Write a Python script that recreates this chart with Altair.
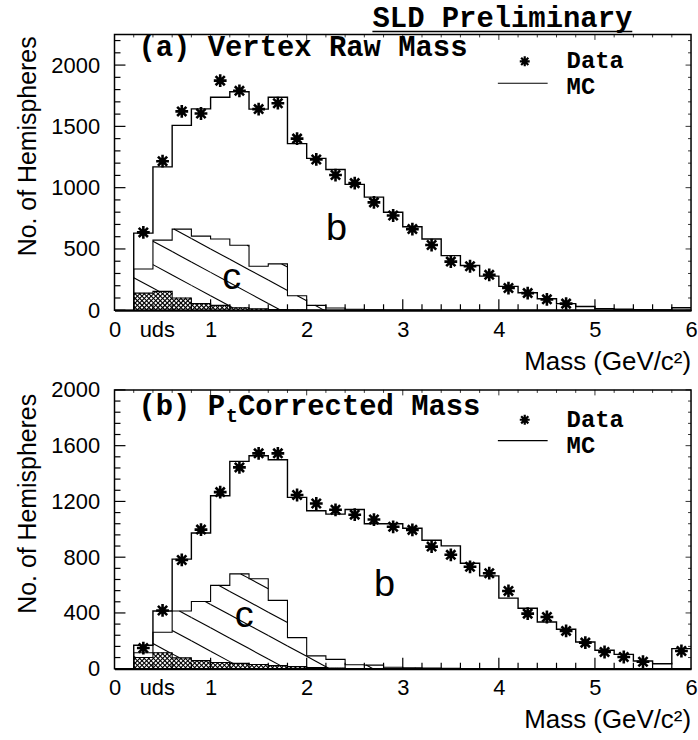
import altair as alt
import pandas as pd

# ---------------- data ----------------
# 29 bins of width 0.2 GeV/c^2, lower edges 0.2 ... 5.8
bin_lo = [round(0.2 + 0.2 * i, 1) for i in range(29)]
bin_mid = [round(0.3 + 0.2 * i, 1) for i in range(29)]

# panel (a) Vertex Raw Mass
a_data = [635, 1216, 1622, 1605, 1873, 1790, 1641, 1689, 1400, 1230, 1103, 1037,
          880, 773, 662, 532, 397, 359, 289, 181, 140, 89, 54]
a_mc = [629, 1170, 1508, 1643, 1737, 1782, 1641, 1738, 1359, 1239, 1148, 1027,
        923, 800, 681, 581, 446, 365, 278, 195, 143, 94, 54, 30, 13, 8, 5, 3, 20]
a_c = [337, 572, 662, 605, 581, 530, 359, 378, 118, 40, 18, 8, 4, 2, 1,
       0, 0, 0, 0, 0, 0, 0, 0, 0, 0, 0, 0, 0, 0]
a_uds = [140, 154, 100, 54, 40, 21, 12, 6, 3, 1,
         0, 0, 0, 0, 0, 0, 0, 0, 0, 0, 0, 0, 0, 0, 0, 0, 0, 0, 0]

# panel (b) Pt Corrected Mass
b_data = [148, 418, 780, 998, 1267, 1444, 1545, 1545, 1246, 1185, 1140, 1105, 1070,
          1018, 996, 876, 817, 731, 685, 558, 395, 371, 271, 187, 120, 84, 50, None, 127]
b_mc = [168, 414, 786, 973, 1241, 1487, 1528, 1499, 1229, 1133, 1109, 1142, 1040,
        1040, 1008, 922, 881, 757, 666, 506, 434, 335, 283, 192, 132, 103, 55, 36, 144]
b_c = [115, 262, 414, 482, 598, 680, 645, 490, 223, 92, 67, 28, 26, 10, 6, 4, 3, 2, 1,
       0, 0, 0, 0, 0, 0, 0, 0, 0, 0]
b_uds = [80, 115, 78, 58, 45, 38, 30, 22, 15, 8, 4, 2,
         0, 0, 0, 0, 0, 0, 0, 0, 0, 0, 0, 0, 0, 0, 0, 0, 0]

x_labels_at = [0, 0.44, 1, 2, 3, 4, 5, 6]
a_y_major = [0, 500, 1000, 1500, 2000]
a_y_minor = [v for v in range(100, 2250, 100) if v % 500]
b_y_major = [0, 400, 800, 1200, 1600, 2000]
b_y_minor = [v for v in range(80, 2000, 80) if v % 400]
x_major = [1, 2, 3, 4, 5]
x_minor = [round(0.2 * i, 1) for i in range(1, 30) if i % 5]

W = 579
SANS = "Liberation Sans"
MONO = "Liberation Mono"
STAR = "M0,-1V1M-1,0H1M-0.72,-0.72L0.72,0.72M-0.72,0.72L0.72,-0.72"
LEG_SIZE = 24


def step_df(vals):
    rows = [{"x": 0.2, "y": 0, "i": 0}]
    for k, v in enumerate(vals):
        rows.append({"x": bin_lo[k], "y": v, "i": k + 1})
    rows.append({"x": 6.0, "y": vals[-1], "i": len(vals) + 1})
    return pd.DataFrame(rows)


def hatch(lower, upper, H, ymax, slope, spacing, offset=0.0):
    kx = W / 6.0
    ky = H / ymax
    rows = []
    c = -abs(slope) * W - spacing + offset
    cmax = H + abs(slope) * W + spacing
    while c <= cmax:
        for i in range(29):
            lo, hi = lower[i], upper[i]
            if hi <= lo:
                continue
            X0, X1 = bin_lo[i] * kx, (bin_lo[i] + 0.2) * kx
            yt, yb = H - hi * ky, H - lo * ky
            if slope > 0:
                xa, xb = (yt - c) / slope, (yb - c) / slope
            else:
                xa, xb = (yb - c) / slope, (yt - c) / slope
            s, e = max(X0, xa), min(X1, xb)
            if e - s > 0.2:
                rows.append({"x": s / kx, "y": (H - (c + slope * s)) / ky,
                             "x2": e / kx, "y2": (H - (c + slope * e)) / ky})
        c += spacing
    return pd.DataFrame(rows)


def txt(text, x, y, size, font=SANS, align="left", baseline="middle",
        weight="normal", angle=0):
    return alt.Chart(alt.Data(values=[{"a": 1}])).mark_text(
        text=text, fontSize=size, font=font, align=align, baseline=baseline,
        fontWeight=weight, angle=angle, color="black"
    ).encode(x=alt.value(x), y=alt.value(y))


def panel(H, ymax, data, mc, ctop, uds, ymaj, ymin, title_parts, tb, tc,
          ytitle_y, data_y, mc_y, line_y, top_extra):
    xs = alt.Scale(domain=[0, 6], nice=False, zero=False)
    ys = alt.Scale(domain=[0, ymax], nice=False, zero=False)
    xaxis = alt.Axis(values=x_labels_at,
                     labelExpr="datum.value > 0.2 && datum.value < 0.8 ? 'uds' : format(datum.value, 'd')",
                     ticks=False, grid=False, domain=True, domainColor="black",
                     domainWidth=2, labelFont=SANS, labelFontSize=22,
                     labelColor="black", labelPadding=9, labelFlush=False,
                     labelOverlap=False, title=None)
    yaxis = alt.Axis(values=ymaj, format="d", ticks=False, grid=False, domain=False,
                     labelFont=SANS, labelFontSize=22, labelColor="black",
                     labelPadding=15, labelFlush=False, labelOverlap=False,
                     title=None)

    def X(f):
        return alt.X(f"{f}:Q", scale=xs, axis=xaxis)

    def Y(f):
        return alt.Y(f"{f}:Q", scale=ys, axis=yaxis)

    layers = []
    # MC total (first layer)
    layers.append(alt.Chart(step_df(mc)).mark_line(
        interpolate="step-after", color="black", strokeWidth=1.4).encode(
        x=X("x"), y=Y("y"), order="i:Q"))
    # uds cross-hatch
    cross = pd.concat([hatch([0] * 29, uds, H, ymax, 1.0, 4.6),
                       hatch([0] * 29, uds, H, ymax, -1.0, 4.6)])
    layers.append(alt.Chart(cross).mark_rule(color="black", strokeWidth=1.1).encode(
        x=X("x"), y=Y("y"), x2="x2", y2="y2"))
    # c diagonal hatch
    ch = hatch(uds, ctop, H, ymax, 0.54, 23.5, 6)
    layers.append(alt.Chart(ch).mark_rule(color="black", strokeWidth=1.1).encode(
        x=X("x"), y=Y("y"), x2="x2", y2="y2"))
    # outlines
    for vals in (uds, ctop):
        layers.append(alt.Chart(step_df(vals)).mark_line(
            interpolate="step-after", color="black", strokeWidth=1.1).encode(
            x=X("x"), y=Y("y"), order="i:Q"))
    # Data points
    dd = pd.DataFrame({"x": bin_mid[:len(data)], "y": data}).dropna()
    layers.append(alt.Chart(dd).mark_point(
        shape=STAR, size=165, color="black", strokeWidth=2.6, filled=False,
        opacity=1).encode(x=X("x"), y=Y("y")))
    # inward ticks
    for vals, ln in ((x_major, 11), (x_minor, 6)):
        d = pd.DataFrame({"x": vals})
        layers.append(alt.Chart(d).mark_rule(color="black", strokeWidth=1.2).encode(
            x=X("x"), y=alt.value(H), y2=alt.value(H - ln)))
        layers.append(alt.Chart(d).mark_rule(color="black", strokeWidth=0.8).encode(
            x=X("x"), y=alt.value(0), y2=alt.value(ln * 0.5)))
    for vals, ln in ((ymaj, 11), (ymin, 6)):
        d = pd.DataFrame({"y": vals})
        layers.append(alt.Chart(d).mark_rule(color="black", strokeWidth=1.2).encode(
            y=Y("y"), x=alt.value(0), x2=alt.value(ln)))
        layers.append(alt.Chart(d).mark_rule(color="black", strokeWidth=0.8).encode(
            y=Y("y"), x=alt.value(W), x2=alt.value(W - ln * 0.5)))
    # b / c labels (data coordinates)
    lab = pd.DataFrame({"x": [tb[0], tc[0]], "y": [tb[1], tc[1]], "t": ["b", "c"]})
    layers.append(alt.Chart(lab).mark_text(fontSize=38, font=SANS, color="black",
                                           baseline="middle", align="center").encode(
        x=X("x"), y=Y("y"), text="t:N"))
    # titles and legend
    for tp in title_parts:
        layers.append(txt(*tp))
    layers.append(alt.Chart(alt.Data(values=[{"a": 1}])).mark_point(
        shape=STAR, size=100, color="black", strokeWidth=2.2, filled=False,
        opacity=1).encode(x=alt.value(412), y=alt.value(data_y)))
    layers.append(txt("Data", 454, data_y, LEG_SIZE, MONO, weight="bold"))
    layers.append(alt.Chart(alt.Data(values=[{"a": 1}])).mark_rule(
        color="black", strokeWidth=1.2).encode(
        x=alt.value(385), x2=alt.value(435), y=alt.value(line_y)))
    layers.append(txt("MC", 454, mc_y, LEG_SIZE, MONO, weight="bold"))
    layers.append(txt("No. of Hemispheres", -79, ytitle_y, 25, align="right",
                      baseline="alphabetic", angle=270))
    layers.append(txt("Mass (GeV/c²)", W, H + 60, 26, align="right",
                      baseline="alphabetic"))
    layers.extend(top_extra)
    return alt.layer(*layers).properties(width=W, height=H)


adv = 0.6 * 29
sld_end = 520
extra_a = [
    txt("SLD Preliminary", sld_end, -7, 29, MONO, align="right",
        baseline="alphabetic", weight="bold"),
    alt.Chart(alt.Data(values=[{"a": 1}])).mark_rule(color="black", strokeWidth=1.5).encode(
        x=alt.value(sld_end - 15 * adv), x2=alt.value(sld_end), y=alt.value(-3)),
    # invisible anchor fixing the page origin of the plot area
    alt.Chart(alt.Data(values=[{"a": 1}])).mark_rule(color="white", strokeWidth=1).encode(
        x=alt.value(-113), x2=alt.value(-113), y=alt.value(-31), y2=alt.value(-31)),
]

pa = panel(277, 2250, a_data, a_mc, a_c, a_uds, a_y_major, a_y_minor,
           [("(a) Vertex Raw Mass", 24, 13, 29, MONO, "left", "middle", "bold")],
           (2.31, 660), (1.22, 262), 2, 27, 53, 49, extra_a)

pb = panel(280, 2000, b_data, b_mc, b_c, b_uds, b_y_major, b_y_minor,
           [("(b) P", 24, 16, 29, MONO, "left", "middle", "bold"),
            ("t", 24 + 5 * adv + 1, 26, 20, MONO, "left", "middle", "bold"),
            ("Corrected Mass", 24 + 5 * adv + 13, 16, 29, MONO, "left", "middle", "bold")],
           (2.81, 598), (1.35, 378), 4, 30, 56, 51, [])

chart = alt.vconcat(pa, pb, spacing=80, bounds="flush").properties(
    padding=0, background="white"
).configure_view(stroke="black", strokeWidth=1.5)

chart.save("out.html", embed_options={"renderer": "svg", "actions": False})
